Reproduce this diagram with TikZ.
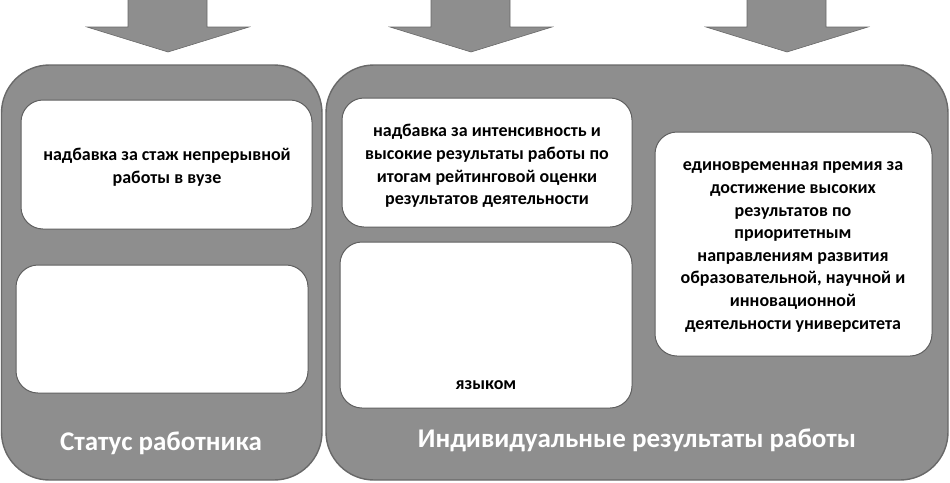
\documentclass[tikz,border=0pt]{standalone}
\usepackage{fontspec}
\setmainfont{Carlito}
\definecolor{boxgray}{RGB}{142,142,142}
\definecolor{edgegray}{RGB}{105,105,105}
\definecolor{inedge}{RGB}{95,95,95}
\begin{document}
\begin{tikzpicture}[x=1pt,y=-1pt,
  bigbox/.style={fill=boxgray,draw=edgegray,line width=1.4pt,rounded corners=48pt},
  inbox/.style={fill=white,draw=inedge,line width=1pt,rounded corners=22pt},
  blockarrow/.style={fill=boxgray,draw=edgegray,line width=0.6pt},
  intext/.style={font=\bfseries\fontsize{18}{22.6}\selectfont,text=black,align=center,inner sep=0pt},
  label/.style={font=\bfseries\fontsize{27}{30}\selectfont,text=white,inner sep=0pt}
]
\useasboundingbox (0,0) rectangle (950,482);
% block arrows
\foreach \c/\n in {168/a1,471/a2,787/a3}{
  \draw[blockarrow] (\c-40,-2) -- (\c+39,-2) -- (\c+39,27) -- (\c+81,27) -- (\c,52) -- (\c-81,27) -- (\c-40,27) -- cycle;
}
% big boxes
\draw[bigbox] (1.5,65) rectangle (322,480);
\draw[bigbox] (326,65) rectangle (948,480);
% inner boxes
\draw[inbox] (21,100) rectangle (312,229);
\draw[inbox] (16,265) rectangle (308,393);
\draw[inbox] (342,98) rectangle (632,227);
\draw[inbox] (340,242) rectangle (632,408);
\draw[inbox] (655,132) rectangle (932,356);
% texts
\node[intext] (t1) at (167,167) {надбавка за стаж непрерывной\\работы в вузе};
\node[intext] (t2) at (487,166) {надбавка за интенсивность и\\высокие результаты работы по\\итогам рейтинговой оценки\\результатов деятельности};
\node[intext] (t3) at (486,385) {языком};
\node[intext] (t4) at (793,247) {единовременная премия за\\достижение высоких\\результатов по\\приоритетным\\направлениям развития\\образовательной, научной и\\инновационной\\деятельности университета};
\node[label] (l1) at (161,443) {Статус работника};
\node[label] (l2) at (637,440) {Индивидуальные результаты работы};
\end{tikzpicture}
\end{document}
